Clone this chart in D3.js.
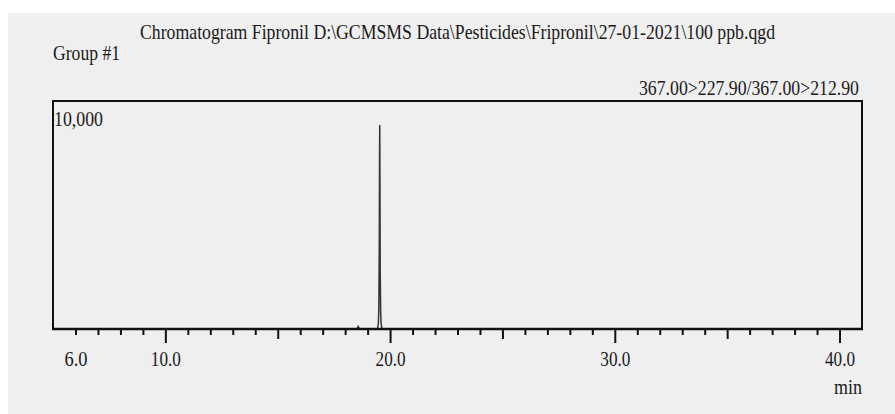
<!DOCTYPE html>
<html>
<head>
<meta charset="utf-8">
<script src="https://cdn.jsdelivr.net/npm/d3@7"></script>
<style>
  html, body { margin: 0; padding: 0; background: #ffffff; }
  svg { display: block; }
  text { font-family: "Liberation Serif", "Times New Roman", serif; fill: #1a1a1a; }
</style>
</head>
<body>
<svg id="chart" width="895" height="414"></svg>
<script>
// ---- data ----
const retentionTimes = [5.0, 18.50, 18.55, 18.58, 18.61, 18.66, 19.44, 19.48, 19.50, 19.52, 19.53, 19.54, 19.55, 19.56, 19.58, 19.60, 19.64, 41.0];
const intensities    = [0,   0,     50,    110,   50,    0,     0,     250,   900,   3600,  7200,  8950,  6200,  2600,  800,   250,   0,     0];
const xDomain = [5, 41];
const yDomain = [0, 10000];
const minorTicks = d3.range(6, 41, 1);
const mediumTicks = [15, 25, 35];
const majorTicks = [10, 20, 30, 40];
const tickLabels = [6, 10, 20, 30, 40];
const titleText = "Chromatogram Fipronil D:\\GCMSMS Data\\Pesticides\\Fripronil\\27-01-2021\\100 ppb.qgd";
const groupText = "Group #1";
const transitionText = "367.00>227.90/367.00>212.90";
const yScaleLabel = "10,000";
const xUnit = "min";

// ---- layout ----
const svg = d3.select("#chart");
const plot = { left: 53, top: 101, right: 862, bottom: 329 };

svg.append("rect").attr("x", 8).attr("y", 13).attr("width", 887).attr("height", 401).attr("fill", "#efefef");

const x = d3.scaleLinear().domain(xDomain).range([plot.left, plot.right]);
const y = d3.scaleLinear().domain(yDomain).range([plot.bottom, plot.top]);

// texts
svg.append("text").attr("x", 140).attr("y", 39).attr("font-size", 21)
  .attr("textLength", 635).attr("lengthAdjust", "spacingAndGlyphs").text(titleText);
svg.append("text").attr("x", 53).attr("y", 60).attr("font-size", 20)
  .attr("textLength", 67).attr("lengthAdjust", "spacingAndGlyphs").text(groupText);
svg.append("text").attr("x", 639).attr("y", 95).attr("font-size", 20)
  .attr("textLength", 220).attr("lengthAdjust", "spacingAndGlyphs").text(transitionText);
svg.append("text").attr("x", 54).attr("y", 126).attr("font-size", 20)
  .attr("textLength", 49).attr("lengthAdjust", "spacingAndGlyphs").text(yScaleLabel);

// trace
const line = d3.line().x((d, i) => x(retentionTimes[i])).y(d => y(d));
svg.append("path").datum(intensities)
  .attr("d", line).attr("fill", "none").attr("stroke", "#333").attr("stroke-width", 1.5);

// frame (top, left, right)
svg.append("path")
  .attr("d", `M${plot.left},${plot.bottom}V${plot.top}H${plot.right}V${plot.bottom}`)
  .attr("fill", "none").attr("stroke", "#111").attr("stroke-width", 2);

// ticks
function tickAxis(values, size) {
  const g = svg.append("g").attr("transform", `translate(0,${plot.bottom})`)
    .call(d3.axisBottom(x).tickValues(values).tickSize(size).tickSizeOuter(0).tickFormat(""));
  g.select(".domain").remove();
  g.selectAll("line").attr("stroke", "#111").attr("stroke-width", 2);
  return g;
}
tickAxis(minorTicks.filter(t => !mediumTicks.includes(t) && !majorTicks.includes(t)), 6);
tickAxis(mediumTicks, 10);
tickAxis(majorTicks, 14);

// baseline axis line
svg.append("line").attr("x1", plot.left - 1).attr("x2", plot.right + 1)
  .attr("y1", plot.bottom).attr("y2", plot.bottom)
  .attr("stroke", "#111").attr("stroke-width", 2.5);

// tick labels
const lab = svg.append("g").attr("transform", `translate(0,${plot.bottom})`)
  .call(d3.axisBottom(x).tickValues(tickLabels).tickSize(0).tickFormat(d3.format(".1f")));
lab.select(".domain").remove();
lab.selectAll("text")
  .attr("font-family", "Liberation Serif, Times New Roman, serif")
  .attr("font-size", 20).attr("fill", "#1a1a1a")
  .attr("dy", null).attr("y", 37)
  .attr("textLength", d => d >= 10 ? 30 : 23).attr("lengthAdjust", "spacingAndGlyphs");

svg.append("text").attr("x", plot.right).attr("y", 394).attr("font-size", 20)
  .attr("text-anchor", "end").attr("textLength", 28).attr("lengthAdjust", "spacingAndGlyphs").text(xUnit);
</script>
</body>
</html>
